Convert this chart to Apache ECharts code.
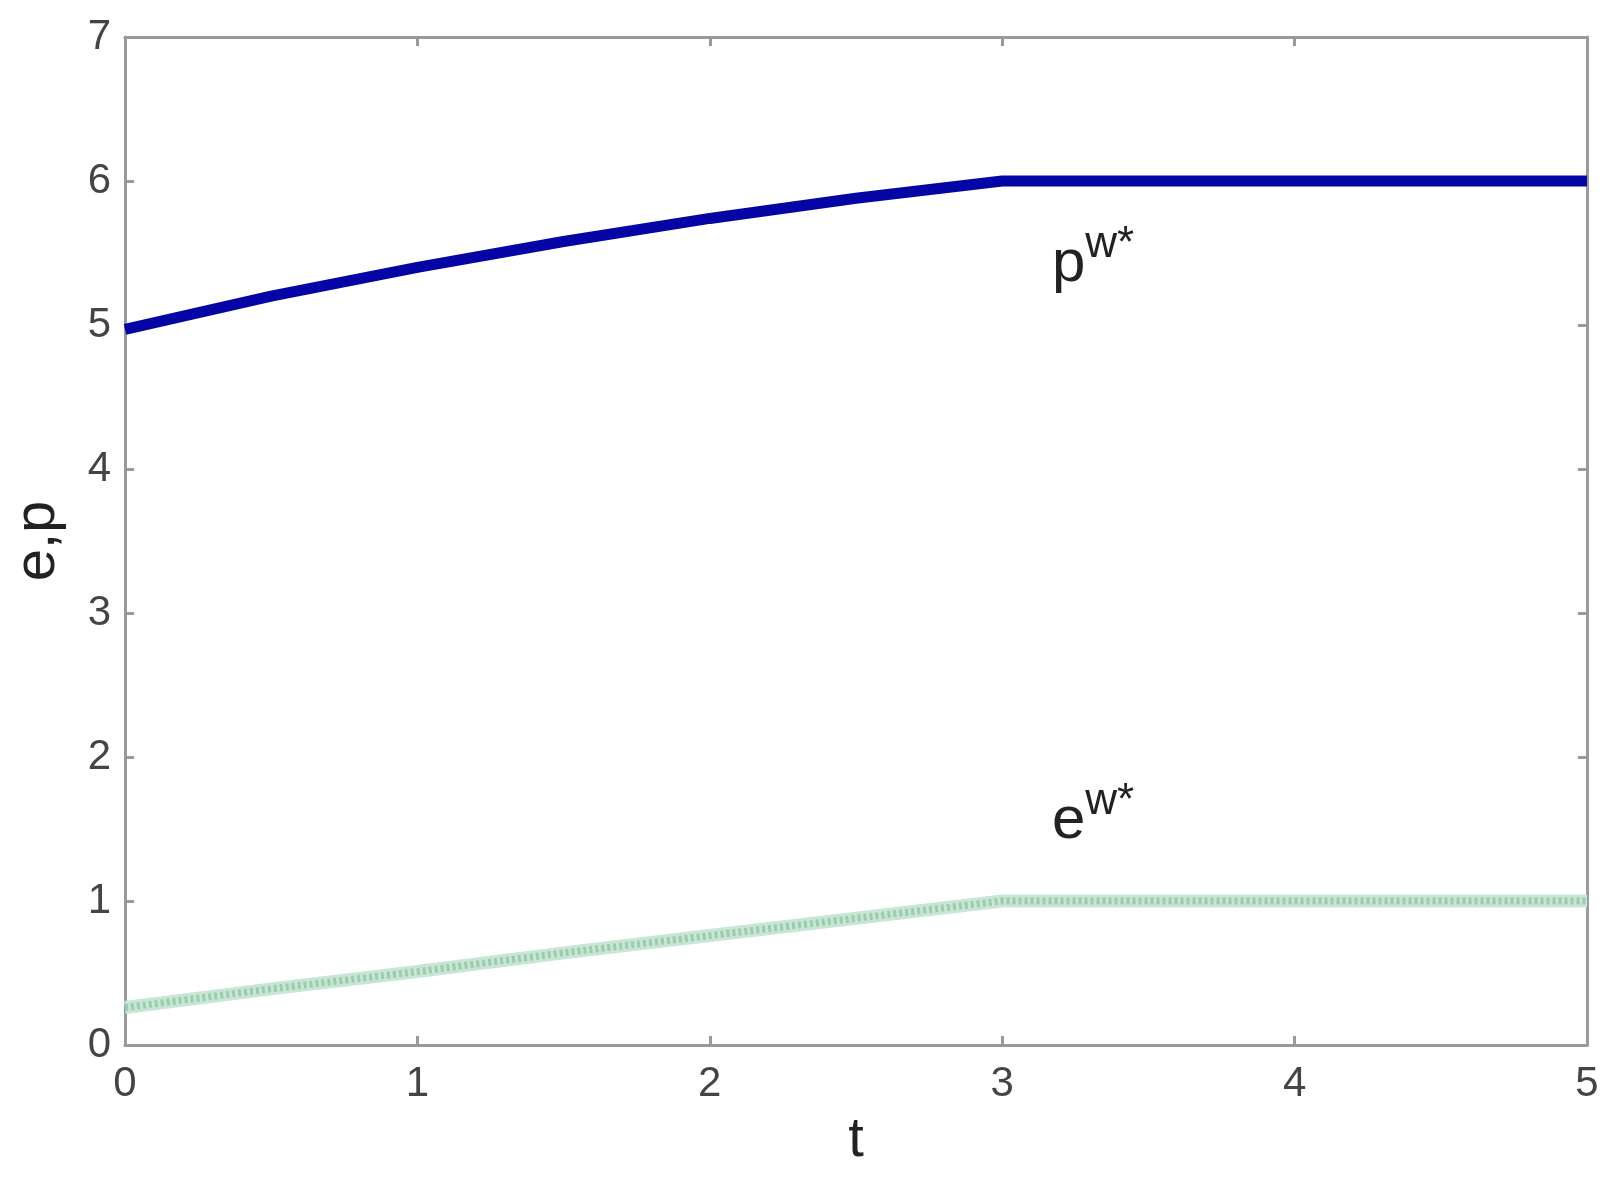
<!DOCTYPE html>
<html>
<head>
<meta charset="utf-8">
<style>
  html, body { margin: 0; padding: 0; background: #fff; }
  #chart { width: 1623px; height: 1177px; }
</style>
<script src="https://cdn.jsdelivr.net/npm/echarts@6/dist/echarts.min.js"></script>
</head>
<body>
<div id="chart"></div>
<script>
// values
const tValues = [0, 0.5, 1, 1.5, 2, 2.5, 3, 5]
const pValues = [4.97, 5.2, 5.4, 5.58, 5.74, 5.88, 6.0, 6.0]
const eValues = [0.26, 0.39, 0.51, 0.64, 0.76, 0.88, 1.0, 1.0]
const xTicks = [0, 1, 2, 3, 4, 5]
const yTicks = [0, 1, 2, 3, 4, 5, 6, 7]

const pData = tValues.map((t, i) => [t, pValues[i]])
const eData = tValues.map((t, i) => [t, eValues[i]])

const frameColor = '#9a9a9a'
const font = 'Liberation Sans, Arial, sans-serif'

const chart = echarts.init(document.getElementById('chart'))

const axisLine = { show: true, onZero: false, lineStyle: { color: frameColor, width: 3 } }
const axisTick = { show: true, inside: true, length: 9, lineStyle: { color: frameColor, width: 3 } }

const hiddenAxis = {
  type: 'value',
  min: 0,
  interval: 1,
  axisLine: axisLine,
  axisTick: axisTick,
  axisLabel: { show: false },
  splitLine: { show: false }
}

chart.setOption({
  animation: false,
  backgroundColor: '#fff',
  grid: { left: 125, right: 36, top: 37, bottom: 132, outerBoundsMode: 'none', containLabel: false },
  xAxis: [
    {
      type: 'value',
      min: 0,
      max: 5,
      interval: 1,
      name: 't',
      nameLocation: 'middle',
      nameGap: 68,
      nameTextStyle: { fontSize: 56, color: '#222', fontFamily: font },
      axisLine: axisLine,
      axisTick: axisTick,
      axisLabel: {
        fontSize: 42,
        color: '#444',
        fontFamily: font,
        margin: 18,
        formatter: v => (xTicks.includes(v) ? String(v) : '')
      },
      splitLine: { show: false }
    },
    Object.assign({}, hiddenAxis, { max: 5, position: 'top' })
  ],
  yAxis: [
    {
      type: 'value',
      min: 0,
      max: 7,
      interval: 1,
      name: 'e,p',
      nameLocation: 'middle',
      nameGap: 58,
      nameTextStyle: { fontSize: 58, color: '#222', fontFamily: font },
      axisLine: axisLine,
      axisTick: axisTick,
      axisLabel: {
        fontSize: 42,
        color: '#444',
        fontFamily: font,
        margin: 14,
        formatter: v => (yTicks.includes(v) ? String(v) : '')
      },
      splitLine: { show: false }
    },
    Object.assign({}, hiddenAxis, { max: 7, position: 'right' })
  ],
  series: [
    {
      name: 'e halo',
      type: 'line',
      data: eData,
      symbol: 'none',
      z: 2,
      lineStyle: { color: '#c8e6d4', width: 13 }
    },
    {
      name: 'e',
      type: 'line',
      data: eData,
      symbol: 'none',
      z: 3,
      lineStyle: { color: '#9ccbae', width: 7, type: [3, 3] }
    },
    {
      name: 'p',
      type: 'line',
      data: pData,
      symbol: 'none',
      z: 4,
      lineStyle: { color: '#0505a5', width: 11 }
    }
  ]
})

// curve labels, placed in data coordinates
const labels = [
  { base: 'p', at: [3.17, 5.42] },
  { base: 'e', at: [3.17, 1.55] }
]
chart.setOption({
  graphic: labels.map(l => {
    const [x, y] = chart.convertToPixel({ gridIndex: 0 }, l.at)
    return {
      type: 'text',
      x: x,
      y: y,
      style: {
        text: '{b|' + l.base + '}{s|w*}',
        fontFamily: font,
        verticalAlign: 'middle',
        rich: {
          b: { fontSize: 60, fill: '#222', fontFamily: font },
          s: { fontSize: 44, fill: '#222', fontFamily: font, padding: [0, 0, 40, 0] }
        }
      }
    }
  })
})

window.addEventListener('resize', () => chart.resize())
</script>
</body>
</html>
